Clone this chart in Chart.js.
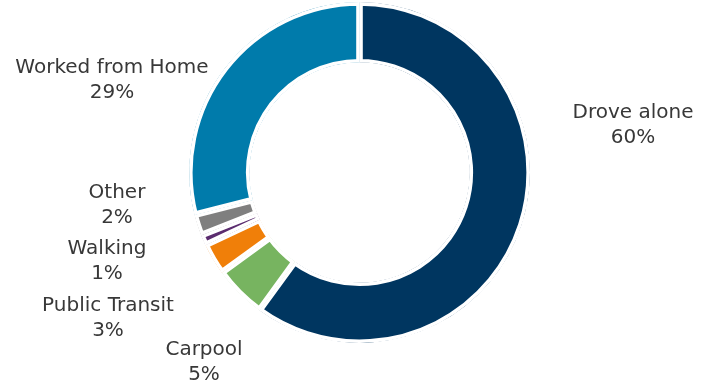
<!DOCTYPE html>
<html>
<head>
<meta charset="utf-8">
<script src="https://cdn.jsdelivr.net/npm/chart.js@4.4.1/dist/chart.umd.min.js"></script>
<style>
  html, body { margin: 0; padding: 0; background: #fff; }
  #wrap { width: 702px; height: 385px; }
</style>
</head>
<body>
<div id="wrap"><canvas id="commuteChart" width="702" height="385"></canvas></div>
<script>
// Commute mode share
const categories = ['Drove alone', 'Carpool', 'Public Transit', 'Walking', 'Other', 'Worked from Home'];
const shares = [60, 5, 3, 1, 2, 29];
const sliceColors = ['#003660', '#77B460', '#F07F09', '#5B2C6F', '#7F7F7F', '#007BAB'];

// where each label (first line centre) sits on the page
const labelPos = [[633, 113], [204, 350], [108, 306], [107, 249], [117, 193], [112, 68]];

const outsideLabels = {
    id: 'outsideLabels',
    afterDatasetsDraw(chart) {
        const ctx = chart.ctx;
        ctx.save();
        ctx.font = '20px "DejaVu Sans"';
        ctx.fillStyle = '#383838';
        ctx.textAlign = 'center';
        ctx.textBaseline = 'middle';
        categories.forEach((name, i) => {
            const [x, y] = labelPos[i];
            ctx.fillText(name, x, y);
            ctx.fillText(shares[i] + '%', x, y + 25);
        });
        ctx.restore();
    }
};

new Chart(document.getElementById('commuteChart'), {
    type: 'doughnut',
    data: {
        labels: categories,
        datasets: [{
            data: shares,
            backgroundColor: sliceColors,
            borderColor: '#ffffff',
            borderWidth: 3.3,
            borderAlign: 'inner',
            spacing: 0
        }]
    },
    options: {
        responsive: false,
        devicePixelRatio: 1,
        animation: false,
        cutout: '64.5%',
        layout: {
            padding: { left: 188, right: 171, top: 2, bottom: 42 }
        },
        plugins: {
            legend: { display: false },
            tooltip: { enabled: false }
        }
    },
    plugins: [outsideLabels]
});
</script>
</body>
</html>
